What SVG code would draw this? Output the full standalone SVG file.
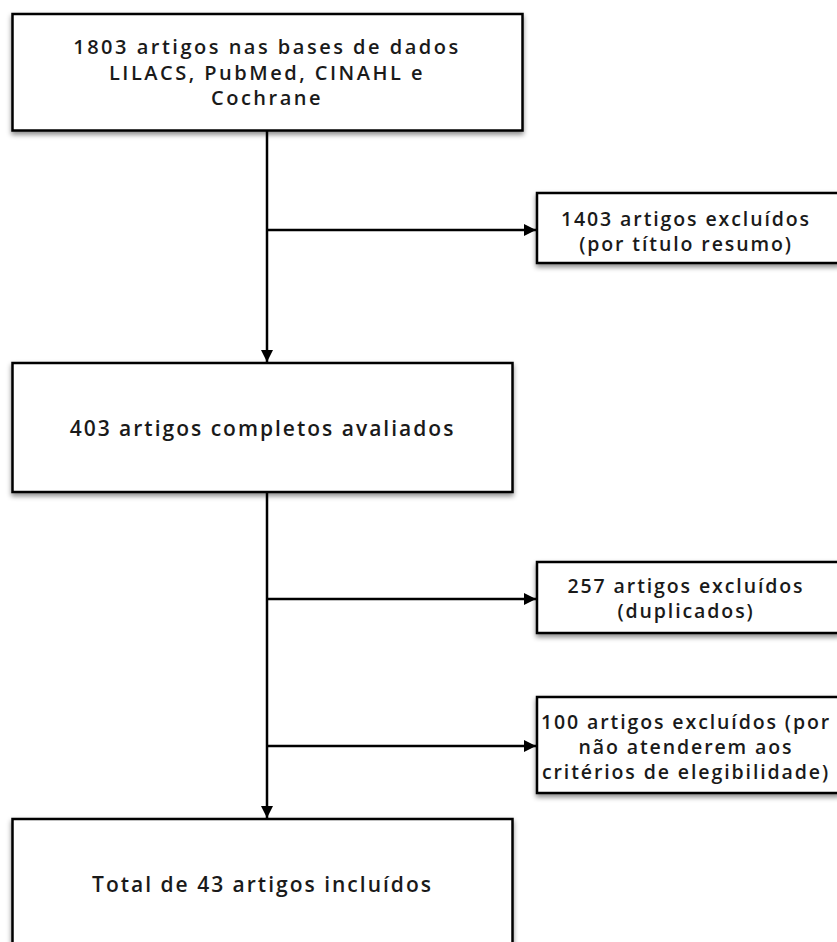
<svg xmlns="http://www.w3.org/2000/svg" width="837" height="942" viewBox="0 0 837 942">
<defs>
<filter id="sh" x="-10%" y="-10%" width="120%" height="130%">
<feDropShadow dx="0" dy="3" stdDeviation="2.5" flood-color="#000" flood-opacity="0.45"/>
</filter>
<marker id="ah" viewBox="0 0 12 12" refX="12" refY="6" markerWidth="12" markerHeight="12" markerUnits="userSpaceOnUse" orient="auto">
<path d="M0,0 L12,6 L0,12 Z" fill="#000"/>
</marker>
<style>
.box{fill:#fff;stroke:#000;stroke-width:2.5;filter:url(#sh)}
.t{font-family:"Open Sans","Noto Sans","DejaVu Sans",sans-serif;font-size:19.5px;font-weight:600;letter-spacing:1.9px;fill:#1a1a1a;text-anchor:middle;dominant-baseline:central}
.m{font-size:21px;letter-spacing:2px}
.m2{font-size:20px;letter-spacing:2.5px}
.c{fill:none;stroke:#000;stroke-width:2.5}
</style>
</defs>
<rect width="837" height="942" fill="#fff"/>
<g id="connectors">
<line class="c" x1="267" y1="131" x2="267" y2="362" marker-end="url(#ah)"/>
<line class="c" x1="267" y1="230" x2="536" y2="230" marker-end="url(#ah)"/>
<line class="c" x1="267" y1="492" x2="267" y2="818" marker-end="url(#ah)"/>
<line class="c" x1="267" y1="599" x2="536" y2="599" marker-end="url(#ah)"/>
<line class="c" x1="267" y1="746" x2="536" y2="746" marker-end="url(#ah)"/>
</g>
<g id="n1">
<rect class="box" x="12.5" y="14" width="510" height="116.5"/>
<text class="t m2" x="267" y="46.5">1803 artigos nas bases de dados</text>
<text class="t m2" x="267" y="72">LILACS, PubMed, CINAHL e</text>
<text class="t m2" x="267" y="97.5">Cochrane</text>
</g>
<g id="n2">
<rect class="box" x="537" y="193" width="302" height="70"/>
<text class="t" x="686" y="218">1403 artigos excluídos</text>
<text class="t" x="686" y="243">(por título resumo)</text>
</g>
<g id="n3">
<rect class="box" x="12.5" y="363" width="500" height="129"/>
<text class="t m" x="262.5" y="428">403 artigos completos avaliados</text>
</g>
<g id="n4">
<rect class="box" x="537" y="562" width="302" height="71"/>
<text class="t" x="686" y="585.5">257 artigos excluídos</text>
<text class="t" x="686" y="610.5">(duplicados)</text>
</g>
<g id="n5">
<rect class="box" x="537" y="697" width="302" height="96"/>
<text class="t" x="686" y="721.5">100 artigos excluídos (por</text>
<text class="t" x="686" y="746.5">não atenderem aos</text>
<text class="t" x="686" y="771.5">critérios de elegibilidade)</text>
</g>
<g id="n6">
<rect class="box" x="12.5" y="819" width="500" height="135"/>
<text class="t m" x="262.5" y="884">Total de 43 artigos incluídos</text>
</g>
</svg>
